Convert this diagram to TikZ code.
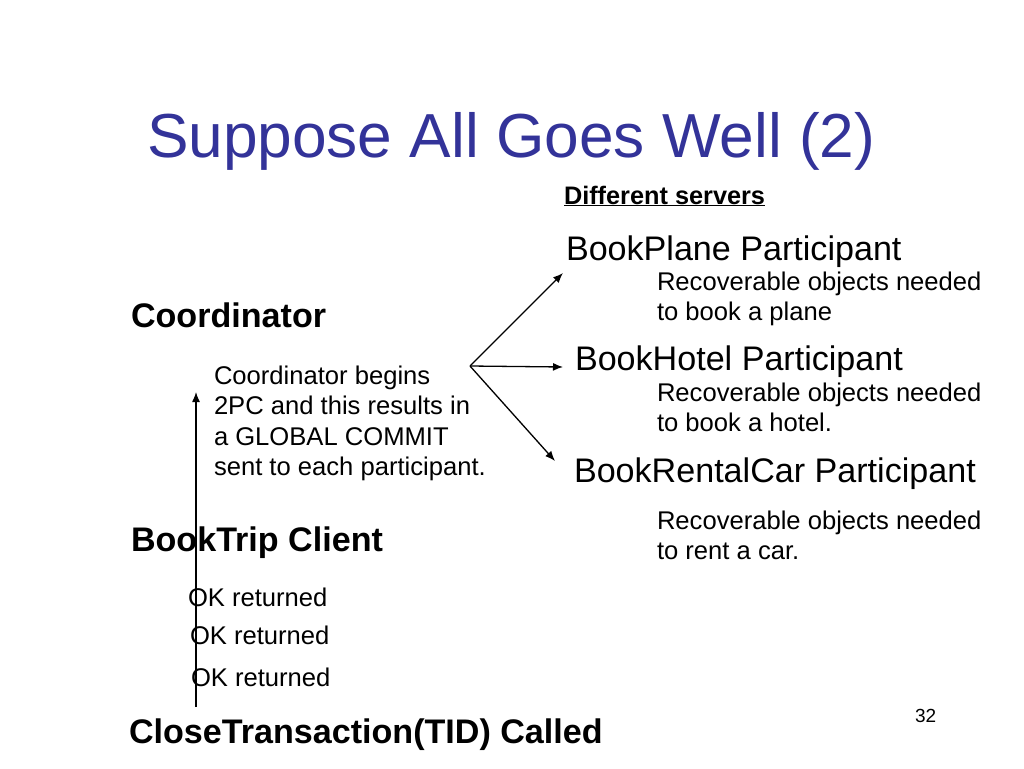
\documentclass[tikz,border=0pt]{standalone}
\usepackage{fontspec}
\setmainfont{Liberation Sans}
\usetikzlibrary{arrows.meta}
\definecolor{titleblue}{RGB}{51,51,153}
\tikzset{
  txt/.style={anchor=base west, inner sep=0pt, outer sep=0pt},
  small/.style={txt, font=\fontsize{25.6}{30}\selectfont},
  big/.style={txt, font=\fontsize{34.1}{40}\selectfont},
  bigbold/.style={txt, font=\fontsize{34.1}{40}\selectfont\bfseries},
  conn/.style={line width=1.3pt, -{Latex[length=10pt,width=8pt]}}
}
\begin{document}
\begin{tikzpicture}[x=1pt,y=-1pt]
\useasboundingbox[fill=white] (0,0) rectangle (1024,768);
\node[txt, font=\fontsize{62.2}{70}\selectfont, text=titleblue] (title) at (147,157) {Suppose All Goes Well (2)};
\node[txt, font=\fontsize{25.3}{30}\selectfont\bfseries] (servers) at (564,204) {\underline{Different servers}};
\node[big] (plane) at (566,260) {BookPlane Participant};
\node[small] (plane1) at (657,290) {Recoverable objects needed};
\node[small] (plane2) at (657,320) {to book a plane};
\node[bigbold] (coord) at (131,327) {Coordinator};
\node[big] (hotel) at (575,370) {BookHotel Participant};
\node[small] (hotel1) at (657,401) {Recoverable objects needed};
\node[small] (hotel2) at (657,431) {to book a hotel.};
\node[small] (begin1) at (214,384) {Coordinator begins};
\node[small] (begin2) at (214,414) {2PC and this results in};
\node[small] (begin3) at (214,445) {a GLOBAL COMMIT};
\node[small] (begin4) at (214,475) {sent to each participant.};
\node[big] (car) at (574,482) {BookRentalCar Participant};
\node[small] (car1) at (657,529) {Recoverable objects needed};
\node[small] (car2) at (657,559) {to rent a car.};
\node[bigbold] (client) at (131,551) {BookTrip Client};
\node[small] (ok1) at (188,606) {OK returned};
\node[small] (ok2) at (190,644) {OK returned};
\node[small] (ok3) at (191,686) {OK returned};
\node[bigbold] (close) at (129,743) {CloseTransaction(TID) Called};
\node[txt, font=\fontsize{19}{22}\selectfont] (page) at (915,722) {32};
\coordinate (src) at (470,366);
\coordinate (tplane) at (563,273);
\coordinate (thotel) at (563,367);
\coordinate (tcar) at (555,461);
\coordinate (vbot) at (196,707);
\coordinate (vtop) at (196,392);
\draw[conn] (src) -- (tplane);
\draw[conn] (src) -- (thotel);
\draw[conn] (src) -- (tcar);
\draw[conn] (vbot) -- (vtop);
\end{tikzpicture}
\end{document}
